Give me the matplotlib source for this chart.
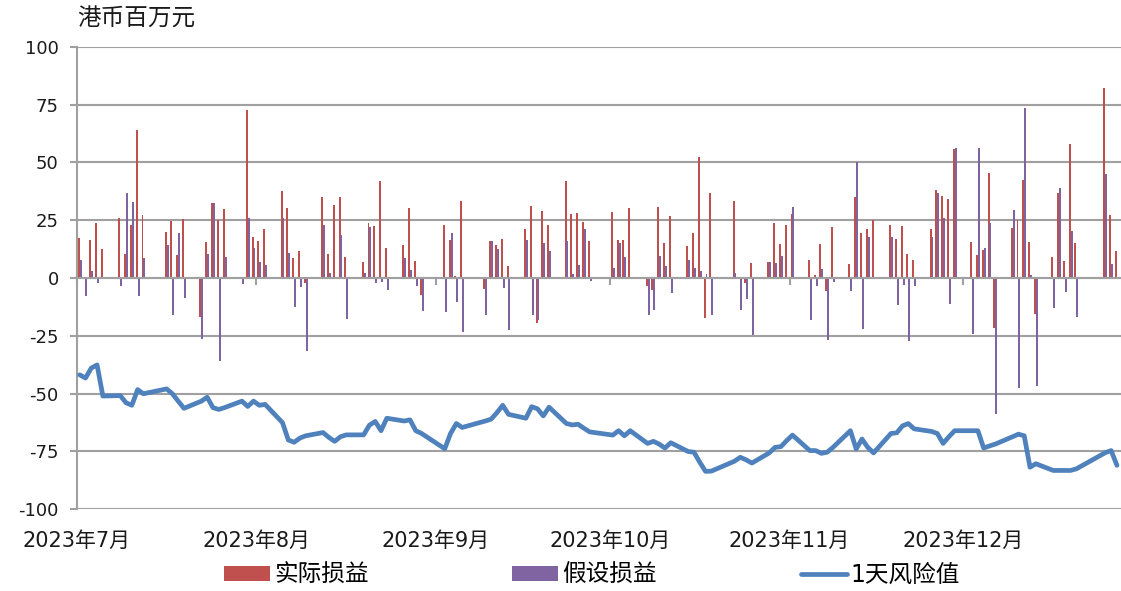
import matplotlib
matplotlib.use('Agg')
import matplotlib.pyplot as plt
import matplotlib.dates as mdates
import pandas as pd

plt.rcParams['font.family'] = ['DejaVu Sans', 'Noto Sans CJK SC']
plt.rcParams['axes.unicode_minus'] = False

# 交易日
dates = [
    '2023-07-03', '2023-07-04', '2023-07-05', '2023-07-06', '2023-07-07',
    '2023-07-10', '2023-07-11', '2023-07-12', '2023-07-13', '2023-07-14',
    '2023-07-18', '2023-07-19', '2023-07-20', '2023-07-21',
    '2023-07-24', '2023-07-25', '2023-07-26', '2023-07-27', '2023-07-28',
    '2023-07-31', '2023-08-01', '2023-08-02', '2023-08-03', '2023-08-04',
    '2023-08-07', '2023-08-08', '2023-08-09', '2023-08-10', '2023-08-11',
    '2023-08-14', '2023-08-15', '2023-08-16', '2023-08-17', '2023-08-18',
    '2023-08-21', '2023-08-22', '2023-08-23', '2023-08-24', '2023-08-25',
    '2023-08-28', '2023-08-29', '2023-08-30', '2023-08-31',
    '2023-09-04', '2023-09-05', '2023-09-06', '2023-09-07',
    '2023-09-11', '2023-09-12', '2023-09-13', '2023-09-14', '2023-09-15',
    '2023-09-18', '2023-09-19', '2023-09-20', '2023-09-21', '2023-09-22',
    '2023-09-25', '2023-09-26', '2023-09-27', '2023-09-28', '2023-09-29',
    '2023-10-03', '2023-10-04', '2023-10-05', '2023-10-06',
    '2023-10-09', '2023-10-10', '2023-10-11', '2023-10-12', '2023-10-13',
    '2023-10-16', '2023-10-17', '2023-10-18', '2023-10-19', '2023-10-20',
    '2023-10-24', '2023-10-25', '2023-10-26', '2023-10-27',
    '2023-10-30', '2023-10-31', '2023-11-01', '2023-11-02', '2023-11-03',
    '2023-11-06', '2023-11-07', '2023-11-08', '2023-11-09', '2023-11-10',
    '2023-11-13', '2023-11-14', '2023-11-15', '2023-11-16', '2023-11-17',
    '2023-11-20', '2023-11-21', '2023-11-22', '2023-11-23', '2023-11-24',
    '2023-11-27', '2023-11-28', '2023-11-29', '2023-11-30', '2023-12-01',
    '2023-12-04', '2023-12-05', '2023-12-06', '2023-12-07', '2023-12-08',
    '2023-12-11', '2023-12-12', '2023-12-13', '2023-12-14', '2023-12-15',
    '2023-12-18', '2023-12-19', '2023-12-20', '2023-12-21', '2023-12-22',
    '2023-12-27', '2023-12-28', '2023-12-29',
]

# 实际损益
actual = [
    17.4, 0, 16.4, 24.0, 12.4,
    26.0, 10.3, 22.8, 63.9, 27.4,
    19.7, 24.7, 9.9, 25.4,
    -16.7, 15.4, 32.6, 25.3, 30.0,
    0, 72.6, 17.8, 16.0, 21.0,
    37.5, 30.2, 8.6, 11.5, -2.2,
    35.2, 10.6, 31.5, 35.2, 9.1,
    6.9, 23.7, 22.4, 42.1, 12.8,
    14.2, 30.2, 7.2, -7.2,
    22.8, 16.4, 0.7, 33.2,
    -4.7, 16.2, 14.1, 16.8, 5.3,
    21.4, 31.0, -19.5, 29.2, 22.8,
    42.1, 27.9, 28.3, 24.1, 16.0,
    28.7, 16.4, 16.4, 30.2,
    -3.6, -5.0, 30.6, 15.1, 27.0,
    13.8, 19.3, 52.5, -17.2, 36.9,
    33.2, 0, -2.2, 6.5,
    6.9, 24.0, 14.7, 22.8, 27.9,
    7.8, 1.1, 14.7, -5.5, 22.0,
    5.9, 35.2, 19.5, 21.4, 25.3,
    23.1, 16.8, 22.4, 10.6, 7.8,
    21.1, 37.9, 35.6, 34.3, 55.8,
    15.8, 10.1, 12.2, 45.6, -21.7,
    21.6, 25.0, 42.5, 15.4, -15.5,
    9.1, 36.9, 7.2, 57.9, 15.1,
    82.2, 27.3, 11.8,
]

# 假设损益
hypothetical = [
    7.8, -8.0, 3.2, -2.2, 0.6,
    -3.6, 36.9, 32.9, -8.0, 8.6,
    14.2, -16.2, 19.3, -8.6,
    -26.3, 10.5, 32.3, -35.9, 8.9,
    -2.6, 26.0, 13.2, 6.9, 5.6,
    26.0, 10.9, -12.6, -4.0, -31.8,
    23.0, 2.3, 0, 18.4, -17.7,
    2.3, 22.0, -2.2, -1.6, -5.0,
    8.6, 3.6, -3.6, -14.1,
    -14.8, 19.3, -10.5, -23.4,
    -16.2, 16.0, 12.4, -4.3, -22.7,
    16.4, -16.2, -18.0, 15.1, 11.9,
    16.0, 1.7, 5.6, 21.4, -1.1,
    4.5, 15.1, 9.1, 0,
    -16.0, -13.7, 9.6, 5.0, -6.3,
    7.8, 4.5, 3.2, 1.7, -16.2,
    2.3, -13.7, -9.1, -24.6,
    6.9, 6.5, 9.5, 0, 30.6,
    -18.1, -3.6, 4.0, -26.7, -1.6,
    -5.7, 50.0, -22.0, 17.7, 0,
    17.7, -11.8, -3.0, -27.3, -3.6,
    17.7, 36.9, 26.0, -11.4, 56.2,
    -24.4, 56.2, 13.1, 23.7, -59.0,
    29.6, -47.8, 73.4, 1.3, -46.8,
    -12.8, 38.8, -5.9, 20.5, -16.8,
    45.1, 5.9, 0,
]

# 1天风险值
var_1d = [
    -41.9, -43.3, -39.0, -37.6, -51.1,
    -50.9, -54.0, -55.1, -48.3, -50.1,
    -48.0, -50.1, -53.3, -56.4,
    -53.3, -51.6, -56.1, -56.9, -56.1,
    -53.3, -55.6, -53.3, -55.1, -54.7,
    -62.6, -70.1, -71.1, -69.3, -68.3,
    -66.9, -69.0, -70.7, -68.7, -67.9,
    -67.9, -63.7, -62.1, -66.1, -60.7,
    -61.9, -61.4, -66.1, -67.3,
    -73.9, -67.3, -63.0, -64.7,
    -61.9, -61.1, -58.3, -55.1, -59.0,
    -60.7, -55.7, -56.6, -59.7, -55.9,
    -63.0, -63.6, -63.3, -65.0, -66.6,
    -68.0, -66.1, -68.3, -66.1,
    -71.6, -70.7, -71.9, -73.6, -71.3,
    -75.1, -75.4, -79.7, -83.7, -83.6,
    -79.3, -77.6, -78.7, -80.1,
    -75.7, -73.3, -73.0, -70.4, -68.0,
    -74.7, -74.7, -75.9, -75.4, -73.3,
    -66.1, -74.0, -69.7, -73.3, -75.7,
    -67.3, -67.0, -64.0, -63.0, -65.3,
    -66.4, -67.3, -71.6, -68.7, -66.1,
    -66.1, -66.1, -73.6, -72.7, -71.9,
    -68.7, -67.6, -68.3, -81.9, -80.4,
    -83.3, -83.3, -83.3, -83.3, -82.6,
    -75.6, -74.7, -81.1,
]

month_ticks = ['2023-07-03', '2023-08-03', '2023-09-03',
               '2023-10-03', '2023-11-03', '2023-12-03']
month_labels = ['2023年7月', '2023年8月', '2023年9月',
                '2023年10月', '2023年11月', '2023年12月']

red = '#C0504D'
purple = '#8064A2'
blue = '#4F81BD'
grid_c = '#A0A0A0'

x = mdates.date2num(pd.to_datetime(dates))
tick_x = mdates.date2num(pd.to_datetime(month_ticks))

fig = plt.figure(figsize=(11.21, 5.91), dpi=100)
ax = fig.add_axes([0.0685, 0.1387, 0.9315, 0.7818])

b1 = ax.bar(x + 0.34, actual, width=0.34, color=red, label='实际损益', zorder=2)
b2 = ax.bar(x + 0.67, hypothetical, width=0.34, color=purple, label='假设损益', zorder=2)
l1, = ax.plot(x + 0.5, var_1d, color=blue, linewidth=3.4, solid_joinstyle='round',
              solid_capstyle='round', label='1天风险值', zorder=3)

ax.set_ylim(-100, 100)
ax.set_yticks(range(-100, 101, 25))
ax.set_xlim(x[0], mdates.date2num(pd.Timestamp('2023-12-30')) + 0.2)
ax.set_axisbelow(True)
ax.grid(axis='y', color=grid_c, linewidth=1.5)

# 横轴放在0处，标签放到底部
ax.spines['bottom'].set_position(('data', 0))
ax.spines['bottom'].set_color(grid_c)
ax.spines['bottom'].set_linewidth(1.5)
ax.spines['left'].set_color(grid_c)
ax.spines['left'].set_linewidth(1.5)
ax.spines['top'].set_visible(False)
ax.spines['right'].set_visible(False)

ax.set_xticks(tick_x)
ax.tick_params(axis='x', direction='out', length=5, width=1.5, color=grid_c,
               labelbottom=False)
ax.tick_params(axis='y', direction='out', length=5, width=1.5, color=grid_c,
               labelsize=13, pad=8, labelcolor='#1a1a1a')

for tx, lab in zip(tick_x, month_labels):
    ax.text(tx, -0.069, lab, transform=ax.get_xaxis_transform(),
            ha='center', va='center', fontsize=15, color='#1a1a1a')

fig.text(0.0687, 1 - 19 / 591, '港币百万元', ha='left', va='center',
         fontsize=17, color='#1a1a1a')

ax.legend(handles=[b1, b2, l1], loc='center', bbox_to_anchor=(0.528, 0.027),
          bbox_transform=fig.transFigure, ncol=3, frameon=False, fontsize=17,
          handlelength=1.95, handleheight=0.6, handletextpad=0.15, columnspacing=6.1)

fig.savefig('out.png', dpi=100)
